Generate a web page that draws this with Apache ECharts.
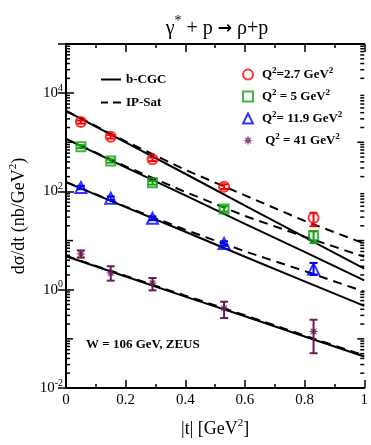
<!DOCTYPE html>
<html>
<head>
<meta charset="utf-8">
<script src="https://cdn.jsdelivr.net/npm/echarts@6/dist/echarts.min.js"></script>
<style>
  html, body { margin: 0; padding: 0; background: #fff; }
  #chart { width: 371px; height: 445px; }
</style>
</head>
<body>
<div id="chart"></div>
<script>
// ZEUS data points, W = 106 GeV
const tData = [0.05, 0.15, 0.29, 0.53, 0.83];
const q27 = [2580, 1290, 450, 125, 29];
const q27Low = [2400, 1190, 415, 112, 19.6];
const q27High = [2780, 1400, 490, 140, 36.7];
const q5 = [815, 415, 150, 44, 12.6];
const q5Low = [760, 385, 138, 39, 8.9];
const q5High = [875, 448, 163, 50, 15.5];
const q119 = [120, 73, 28.5, 8.7, 2.65];
const q119Low = [111, 67, 26, 7.8, 2.0];
const q119High = [130, 79, 31, 9.7, 3.5];
const q41 = [5.35, 2.19, 1.37, 0.42, 0.141];
const q41Low = [4.5, 1.53, 0.97, 0.265, 0.051];
const q41High = [6.3, 3.0, 1.73, 0.57, 0.245];

// model curves
const tCurve = [0, 0.2, 0.4, 0.6, 0.8, 1.0];
const cgc27 = [4365, 1000, 229, 51.3, 11.7, 2.69];
const ips27 = [4365, 1047, 275, 83.2, 25.1, 8.71];
const cgc5 = [1175, 309, 83.2, 21.9, 5.89, 1.55];
const ips5 = [1175, 324, 97.7, 31.6, 12.0, 4.68];
const cgc119 = [155, 47.9, 15.1, 4.68, 1.48, 0.468];
const ips119 = [155, 49, 16.6, 6.03, 2.40, 0.912];
const cgc41 = [4.79, 1.86, 0.724, 0.288, 0.112, 0.0437];
const ips41 = [4.90, 1.91, 0.759, 0.302, 0.117, 0.0457];

const xTicks = [0, 0.2, 0.4, 0.6, 0.8, 1];
const yLabelExp = [-2, 0, 2, 4];

const serif = 'Liberation Serif';
const starPath = 'path://M10 0 L11.72 5.84 L17.07 2.93 L14.16 8.28 L20 10 L14.16 11.72 L17.07 17.07 L11.72 14.16 L10 20 L8.28 14.16 L2.93 17.07 L5.84 11.72 L0 10 L5.84 8.28 L2.93 2.93 L8.28 5.84 Z';

// minor ticks on the log axis (2..9 x 10^k) plus odd decades
let minorTicks = [];
for (let k = -2; k < 5; k++) {
  for (let m = 2; m <= 9; m++) minorTicks.push([m * Math.pow(10, k), 0]);
  if (k % 2 !== 0) minorTicks.push([Math.pow(10, k), 1]);
}

const zip = (xs, ys) => xs.map((x, i) => [x, ys[i]]);
const errData = (lo, hi) => tData.map((t, i) => [t, lo[i], hi[i]]);

function curve(name, ys, dashed) {
  return {
    name: name,
    type: 'line',
    data: zip(tCurve, ys),
    showSymbol: false,
    symbol: 'none',
    z: 3,
    lineStyle: { color: '#000', width: 2, type: dashed ? [9, 6] : 'solid' },
    itemStyle: { color: '#000' }
  };
}

function errBars(color, lo, hi) {
  return {
    type: 'custom',
    data: errData(lo, hi),
    z: 4,
    silent: true,
    renderItem: function (params, api) {
      const top = api.coord([api.value(0), api.value(2)]);
      const bot = api.coord([api.value(0), api.value(1)]);
      const w = 4;
      const st = { stroke: color, lineWidth: 2 };
      return {
        type: 'group',
        children: [
          { type: 'line', shape: { x1: top[0], y1: top[1], x2: bot[0], y2: bot[1] }, style: st },
          { type: 'line', shape: { x1: top[0] - w, y1: top[1], x2: top[0] + w, y2: top[1] }, style: st },
          { type: 'line', shape: { x1: bot[0] - w, y1: bot[1], x2: bot[0] + w, y2: bot[1] }, style: st }
        ]
      };
    }
  };
}

function points(name, ys, color, symbol, size, filled) {
  return {
    name: name,
    type: 'scatter',
    data: zip(tData, ys),
    symbol: symbol,
    symbolSize: size,
    z: 5,
    itemStyle: filled
      ? { color: color }
      : { color: 'rgba(0,0,0,0)', borderColor: color, borderWidth: 2 }
  };
}

const sup = { fontSize: 9, fontFamily: serif, fontWeight: 'bold', padding: [0, 0, 8, 0] };
const legTxt = { fontSize: 13, fontFamily: serif, fontWeight: 'bold', color: '#000' };
const n27 = 'Q2=2.7', n5 = 'Q2=5', n119 = 'Q2=11.9', n41 = 'Q2=41';
const legendText = {};
legendText[n27] = '{sp|}{b|Q}{s|2}{b|=2.7 GeV}{s|2}';
legendText[n5] = '{sp|}{b|Q}{s|2}{b| = 5 GeV}{s|2}';
legendText[n119] = '{sp|}{b|Q}{s|2}{b|= 11.9 GeV}{s|2}';
legendText[n41] = '{sp|}{b| Q}{s|2}{b| = 41 GeV}{s|2}';

const chart = echarts.init(document.getElementById('chart'), null, { renderer: 'canvas' });

const tickAxisCommon = {
  axisLine: { lineStyle: { color: '#000', width: 2 } },
  axisTick: { inside: true, length: 8, lineStyle: { color: '#000', width: 1.5 } },
  splitLine: { show: false }
};

chart.setOption({
  animation: false,
  backgroundColor: '#fff',
  title: {
    text: '{g|γ}{s|*}{g| + p }{a|→}{g| ρ+p}',
    left: 212,
    textAlign: 'center',
    top: 9,
    textStyle: {
      fontWeight: 'normal',
      rich: {
        g: { fontSize: 20, fontFamily: serif, fontWeight: 'normal', color: '#000' },
        s: { fontSize: 14, fontFamily: serif, fontWeight: 'normal', color: '#000', padding: [0, 0, 16, 0] },
        a: { fontSize: 17, fontFamily: 'DejaVu Sans', fontWeight: 'bold', color: '#000' }
      }
    }
  },
  grid: { left: 58, right: 5, top: 44, bottom: 57 },
  legend: [
    {
      data: [
        { name: 'b-CGC', icon: 'path://M0 0 H20 V2 H0 Z' },
        { name: 'IP-Sat', icon: 'path://M0 0 H7 V2 H0 Z M12 0 H20 V2 H12 Z' }
      ],
      orient: 'vertical',
      left: 96,
      top: 68,
      itemWidth: 20,
      itemHeight: 2.5,
      itemGap: 10,
      textStyle: legTxt
    },
    {
      data: [n27, n5, n119, n41],
      orient: 'vertical',
      left: 237,
      top: 61,
      itemWidth: 10,
      itemHeight: 10,
      itemGap: 7,
      formatter: function (name) { return legendText[name]; },
      textStyle: { color: '#000', rich: { b: legTxt, s: sup, sp: { width: 4 } } }
    }
  ],
  graphic: [
    {
      type: 'text',
      left: 86,
      top: 338,
      style: { text: 'W = 106 GeV, ZEUS', font: 'bold 13px "Liberation Serif"', fill: '#000' }
    }
  ],
  xAxis: [
    Object.assign({}, tickAxisCommon, {
      type: 'value',
      min: 0,
      max: 1,
      interval: 0.2,
      position: 'bottom',
      name: '{b||t| [GeV}{s|2}{b|]}',
      nameLocation: 'middle',
      nameGap: 30,
      nameTextStyle: {
        rich: {
          b: { fontSize: 18, fontFamily: serif, color: '#000' },
          s: { fontSize: 11, fontFamily: serif, color: '#000', padding: [0, 0, 12, 0] }
        }
      },
      minorTick: { show: true, splitNumber: 2, length: 4, lineStyle: { color: '#000', width: 1.5 } },
      axisLabel: {
        fontSize: 15,
        fontFamily: serif,
        color: '#000',
        margin: 5,
        formatter: function (v) { return xTicks.indexOf(+v.toFixed(1)) >= 0 ? String(+v.toFixed(1)) : ''; }
      }
    }),
    Object.assign({}, tickAxisCommon, {
      type: 'value',
      min: 0,
      max: 1,
      interval: 0.2,
      position: 'top',
      minorTick: { show: true, splitNumber: 2, length: 4, lineStyle: { color: '#000', width: 1.5 } },
      axisLabel: { show: false }
    })
  ],
  yAxis: [
    Object.assign({}, tickAxisCommon, {
      type: 'log',
      logBase: 10,
      min: 0.01,
      max: 100000,
      interval: 2,
      position: 'left',
      name: '{b|dσ/dt (nb/GeV}{s|2}{b|)}',
      nameLocation: 'middle',
      nameRotate: 90,
      nameGap: 35,
      nameTextStyle: {
        rich: {
          b: { fontSize: 18, fontFamily: serif, color: '#000' },
          s: { fontSize: 11, fontFamily: serif, color: '#000', padding: [0, 0, 12, 0] }
        }
      },
      axisLabel: {
        margin: 3,
        formatter: function (v) {
          const e = Math.round(Math.log10(v));
          return yLabelExp.indexOf(e) >= 0 ? '{b|10}{s|' + e + '}' : '';
        },
        rich: {
          b: { fontSize: 15, fontFamily: serif, color: '#000' },
          s: { fontSize: 10, fontFamily: serif, color: '#000', padding: [0, 0, 10, 0] }
        }
      }
    }),
    Object.assign({}, tickAxisCommon, {
      type: 'log',
      logBase: 10,
      min: 0.01,
      max: 100000,
      interval: 2,
      position: 'right',
      axisLabel: { show: false }
    })
  ],
  series: [
    {
      type: 'custom',
      data: minorTicks,
      silent: true,
      z: 2,
      clip: false,
      renderItem: function (params, api) {
        const l = api.coord([0, api.value(0)]);
        const r = api.coord([1, api.value(0)]);
        const len = api.value(1) ? 7 : 4;
        const st = { stroke: '#000', lineWidth: 1.5 };
        return {
          type: 'group',
          children: [
            { type: 'line', shape: { x1: l[0], y1: l[1], x2: l[0] + len, y2: l[1] }, style: st },
            { type: 'line', shape: { x1: r[0], y1: r[1], x2: r[0] - len, y2: r[1] }, style: st }
          ]
        };
      }
    },
    curve('b-CGC', cgc27, false),
    curve('IP-Sat', ips27, true),
    curve('b-CGC', cgc5, false),
    curve('IP-Sat', ips5, true),
    curve('b-CGC', cgc119, false),
    curve('IP-Sat', ips119, true),
    curve('b-CGC', cgc41, false),
    curve('IP-Sat', ips41, true),
    errBars('#ff0000', q27Low, q27High),
    errBars('#11a011', q5Low, q5High),
    errBars('#0000ff', q119Low, q119High),
    errBars('#6b1a55', q41Low, q41High),
    points(n27, q27, '#ff0000', 'circle', 10, false),
    points(n5, q5, '#11a011', 'rect', 9, false),
    points(n119, q119, '#0000ff', 'triangle', 11, false),
    points(n41, q41, '#6b1a55', starPath, 10, true)
  ]
});
</script>
</body>
</html>
